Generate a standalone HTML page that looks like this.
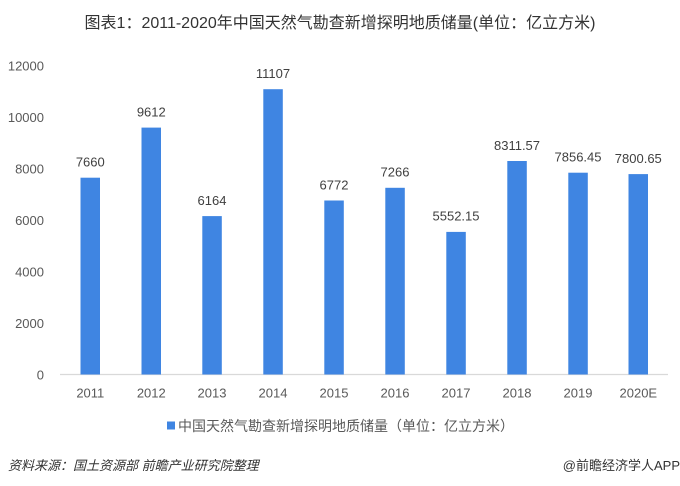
<!DOCTYPE html>
<html>
<head>
<meta charset="utf-8">
<style>
  html, body { margin:0; padding:0; background:#fff; }
  svg { display:block; }
  text { font-family: "Liberation Sans", "Noto Sans CJK SC", sans-serif; }
</style>
</head>
<body>
<svg width="680" height="486" viewBox="0 0 680 486" xmlns="http://www.w3.org/2000/svg">
  <rect width="680" height="486" fill="#ffffff"/>
  <!-- Title -->
  <text x="340" y="28" font-size="16" fill="#333" text-anchor="middle">图表1：2011-2020年中国天然气勘查新增探明地质储量(单位：亿立方米)</text>

  <!-- Y axis labels -->
  <g font-size="13" fill="#595959" text-anchor="end">
    <text x="44" y="70.5">12000</text>
    <text x="44" y="122">10000</text>
    <text x="44" y="173.5">8000</text>
    <text x="44" y="225">6000</text>
    <text x="44" y="276.5">4000</text>
    <text x="44" y="328">2000</text>
    <text x="44" y="379.5">0</text>
  </g>

  <!-- baseline -->
  <line x1="60" y1="374.5" x2="668" y2="374.5" stroke="#d9d9d9" stroke-width="1.2"/>

  <!-- Bars -->
  <g fill="#3f85e2">
    <rect x="80.5" y="177.7" width="19.5" height="196.8"/>
    <rect x="141.5" y="127.6" width="19.5" height="246.9"/>
    <rect x="202.3" y="216.1" width="19.5" height="158.4"/>
    <rect x="263.3" y="89.2" width="19.5" height="285.3"/>
    <rect x="324.3" y="200.5" width="19.5" height="174.0"/>
    <rect x="385.3" y="187.8" width="19.5" height="186.7"/>
    <rect x="446.3" y="231.9" width="19.5" height="142.6"/>
    <rect x="507.3" y="161.0" width="19.5" height="213.5"/>
    <rect x="568.3" y="172.7" width="19.5" height="201.8"/>
    <rect x="628.5" y="174.1" width="19.5" height="200.4"/>
  </g>

  <!-- Value labels -->
  <g font-size="13" fill="#404040" text-anchor="middle">
    <text x="90.3" y="166.5">7660</text>
    <text x="151.3" y="116.4">9612</text>
    <text x="212" y="204.9">6164</text>
    <text x="273" y="78">11107</text>
    <text x="334" y="189.3">6772</text>
    <text x="395" y="176.6">7266</text>
    <text x="456" y="220.7">5552.15</text>
    <text x="517" y="149.8">8311.57</text>
    <text x="578" y="161.5">7856.45</text>
    <text x="638.3" y="162.9">7800.65</text>
  </g>

  <!-- X axis labels -->
  <g font-size="13" fill="#595959" text-anchor="middle">
    <text x="90.3" y="397.5">2011</text>
    <text x="151.3" y="397.5">2012</text>
    <text x="212" y="397.5">2013</text>
    <text x="273" y="397.5">2014</text>
    <text x="334" y="397.5">2015</text>
    <text x="395" y="397.5">2016</text>
    <text x="456" y="397.5">2017</text>
    <text x="517" y="397.5">2018</text>
    <text x="578" y="397.5">2019</text>
    <text x="638.3" y="397.5">2020E</text>
  </g>

  <!-- Legend -->
  <rect x="167" y="421.5" width="8" height="8" fill="#3f85e2"/>
  <text x="178" y="431" font-size="14" fill="#595959">中国天然气勘查新增探明地质储量（单位：亿立方米）</text>

  <!-- Footer -->
  <text x="8" y="470" font-size="13" fill="#333" font-style="italic">资料来源：国土资源部 前瞻产业研究院整理</text>
  <text x="680" y="470" font-size="13" fill="#333" text-anchor="end">@前瞻经济学人APP</text>
</svg>
</body>
</html>
